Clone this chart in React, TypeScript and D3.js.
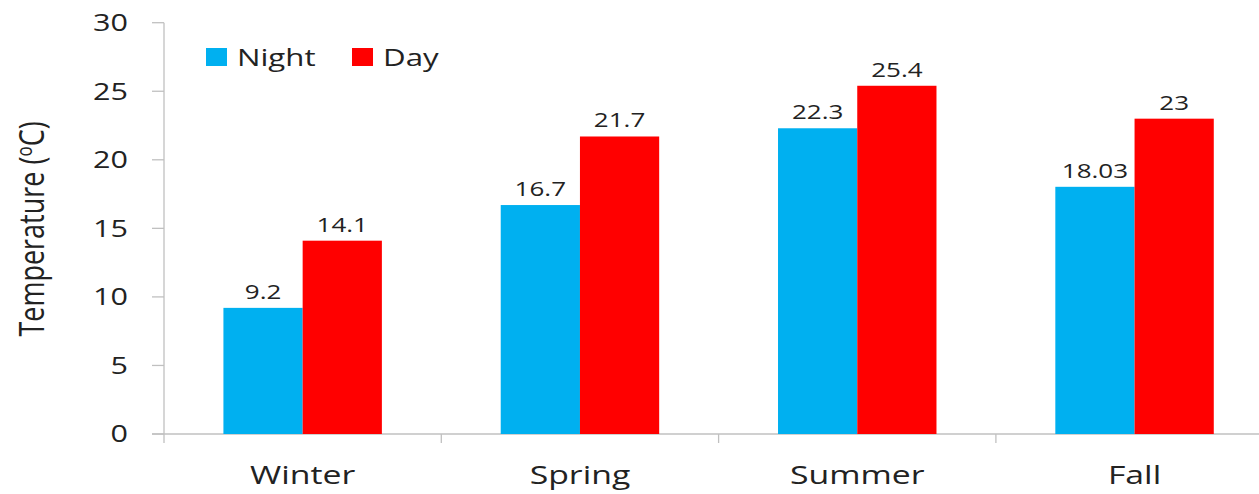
import React, { useEffect, useRef } from "react";
import * as d3 from "d3";

// seasons and mean temperatures (°C)
const seasons = ["Winter", "Spring", "Summer", "Fall"];
const nightTemps = [9.2, 16.7, 22.3, 18.03];
const dayTemps = [14.1, 21.7, 25.4, 23];
const seriesNames = ["Night", "Day"];
const seriesColors = ["#00b0f0", "#ff0000"];
const yTicks = [0, 5, 10, 15, 20, 25, 30];

const W = 1259;
const H = 494;
// the source picture is stretched sideways, text too
const SX = 1.3;

export default function App() {
  const ref = useRef<SVGSVGElement | null>(null);

  useEffect(() => {
    const svg = d3.select(ref.current);
    svg.selectAll("*").remove();

    const font = "'Open Sans', 'Liberation Sans', sans-serif";
    const axisColor = "#c0c0c0";
    const tf = (px: number, py: number) => "translate(" + px + "," + py + ") scale(" + SX + ",1)";

    const left = 164, bottom = 434, top = 22.7;
    const catW = 277.3;

    const x = d3.scaleBand<string>()
      .domain(seasons)
      .range([left, left + catW * seasons.length])
      .padding(0);
    const y = d3.scaleLinear().domain([0, 30]).range([bottom, top]);

    // bars of width band/3.5, two per group, centered
    const barW = x.bandwidth() / 3.5;
    const inner = d3.scaleBand<string>()
      .domain(seriesNames)
      .range([0, barW * 2]);

    const rows = seasons.map((s, i) => ({ season: s, values: [nightTemps[i], dayTemps[i]] }));

    // axes
    const g = svg.append("g");
    g.append("line")
      .attr("x1", left).attr("x2", left)
      .attr("y1", top).attr("y2", bottom + 9)
      .attr("stroke", axisColor).attr("stroke-width", 1.3);
    g.selectAll(".ytick")
      .data(yTicks)
      .enter().append("line")
      .attr("x1", left - 12).attr("x2", left)
      .attr("y1", d => y(d)).attr("y2", d => y(d))
      .attr("stroke", axisColor).attr("stroke-width", 1.3);
    g.selectAll(".ylab")
      .data(yTicks)
      .enter().append("text")
      .attr("transform", d => tf(128, y(d)))
      .attr("dy", "0.36em")
      .attr("text-anchor", "end")
      .style("font-family", font)
      .style("font-size", "23.5px")
      .attr("fill", "#222")
      .text(d => d);

    // x axis baseline and category separators
    g.append("line")
      .attr("x1", left - 12).attr("x2", W)
      .attr("y1", bottom).attr("y2", bottom)
      .attr("stroke", axisColor).attr("stroke-width", 1.3);
    g.selectAll(".xtick")
      .data(seasons.slice(1))
      .enter().append("line")
      .attr("x1", d => x(d)!).attr("x2", d => x(d)!)
      .attr("y1", bottom).attr("y2", bottom + 9)
      .attr("stroke", axisColor).attr("stroke-width", 1.3);

    // bars
    const groups = svg.selectAll(".grp")
      .data(rows)
      .enter().append("g")
      .attr("transform", d => "translate(" + (x(d.season)! + x.bandwidth() / 2 - barW) + ",0)");

    groups.selectAll("rect")
      .data(d => d.values.map((v, k) => ({ v, k })))
      .enter().append("rect")
      .attr("x", d => inner(seriesNames[d.k])!)
      .attr("width", inner.bandwidth())
      .attr("y", d => y(d.v))
      .attr("height", d => bottom - y(d.v))
      .attr("fill", d => seriesColors[d.k]);

    groups.selectAll(".val")
      .data(d => d.values.map((v, k) => ({ v, k })))
      .enter().append("text")
      .attr("transform", d => tf(inner(seriesNames[d.k])! + inner.bandwidth() / 2, y(d.v) - 9))
      .attr("text-anchor", "middle")
      .style("font-family", font)
      .style("font-size", "20px")
      .attr("fill", "#222")
      .text(d => String(d.v));

    // category labels
    svg.selectAll(".cat")
      .data(seasons)
      .enter().append("text")
      .attr("transform", d => tf(x(d)! + x.bandwidth() / 2, 484))
      .attr("text-anchor", "middle")
      .style("font-family", font)
      .style("font-size", "26px")
      .attr("fill", "#222")
      .text(d => d);

    // y title
    const yt = svg.append("text")
      .attr("transform", tf(44, 229) + " rotate(-90)")
      .attr("text-anchor", "middle")
      .style("font-family", font)
      .style("font-size", "27px")
      .attr("fill", "#222");
    yt.append("tspan").text("Temperature (");
    yt.append("tspan").attr("dy", -9).style("font-size", "17px").text("o");
    yt.append("tspan").attr("dy", 9).text("C)");

    // legend
    const legX = [206, 352];
    const leg = svg.selectAll(".leg")
      .data(seriesNames)
      .enter().append("g")
      .attr("transform", (d, i) => "translate(" + legX[i] + ",48)");
    leg.append("rect")
      .attr("width", 21).attr("height", 18)
      .attr("fill", (d, i) => seriesColors[i]);
    leg.append("text")
      .attr("transform", tf(31, 18))
      .style("font-family", font)
      .style("font-size", "24px")
      .attr("fill", "#222")
      .text(d => d);
  }, []);

  return (
    <svg
      ref={ref}
      width={W}
      height={H}
      style={{ position: "absolute", left: 0, top: 0, background: "#fff" }}
    />
  );
}
